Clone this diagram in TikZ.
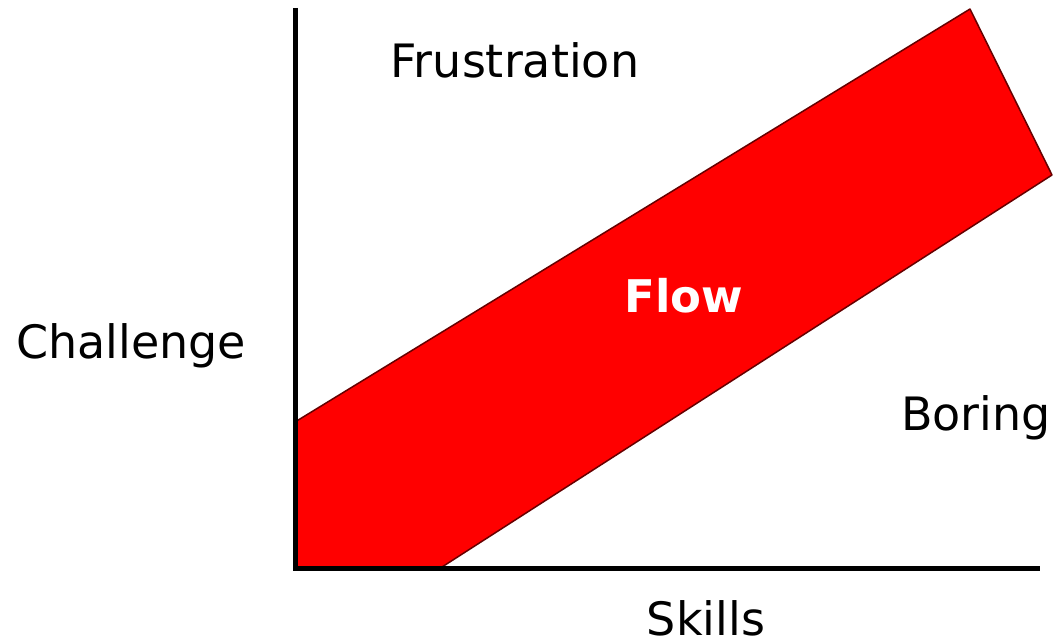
\documentclass[tikz,border=0pt]{standalone}
\usepackage{fontspec}
\setmainfont{DejaVu Sans}
\begin{document}
\begin{tikzpicture}[x=1pt,y=-1pt,
  lbl/.style={font=\fontsize{46}{50}\selectfont, anchor=base, inner sep=0pt, text=black},
  flowlbl/.style={font=\fontsize{45}{50}\selectfont\bfseries, anchor=base, inner sep=0pt, text=white},
  band/.style={fill=red, draw=black!60!red, line width=1.5pt, line join=round},
  axis/.style={line width=5pt, line join=miter}]
\useasboundingbox (0,0) rectangle (1054,644);
\coordinate (ytop) at (295,8);
\coordinate (orig) at (295,568);
\coordinate (xend) at (1040,568);
\coordinate (b1) at (295,422);
\coordinate (b2) at (970,9);
\coordinate (b3) at (1052,175);
\coordinate (b4) at (442,567);
\coordinate (b5) at (295,567);
\draw[band] (b1) -- (b2) -- (b3) -- (b4) -- (b5) -- cycle;
\draw[axis] (ytop) -- (orig) -- (xend);
\node[lbl] (frus) at (515,78) {Frustration};
\node[lbl] (chal) at (131,358) {Challenge};
\node[lbl] (bor) at (976,430) {Boring};
\node[lbl] (sk) at (706,635) {Skills};
\node[flowlbl] (flow) at (684,312) {Flow};
\end{tikzpicture}
\end{document}
